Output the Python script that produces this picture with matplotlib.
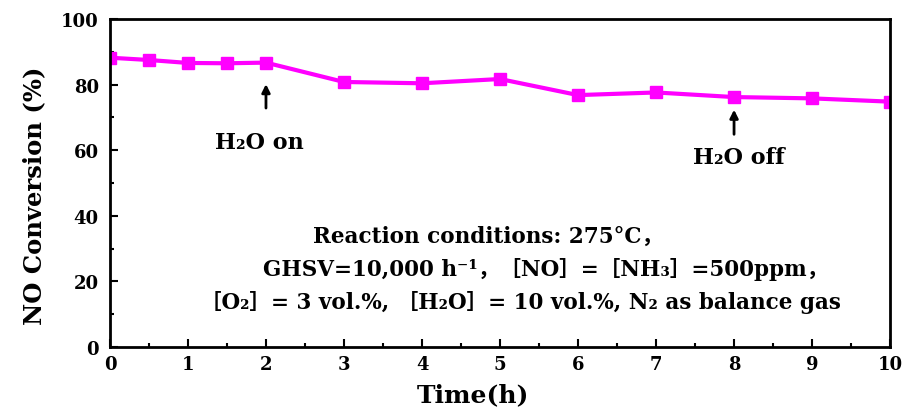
import matplotlib
matplotlib.use("Agg")
import matplotlib.pyplot as plt
from matplotlib.ticker import MultipleLocator

plt.rcParams['font.family'] = ['DejaVu Serif', 'Noto Sans CJK SC']
plt.rcParams['font.weight'] = 'bold'

time_h = [0, 0.5, 1, 1.5, 2, 3, 4, 5, 6, 7, 8, 9, 10]
no_conversion = [88.2, 87.5, 86.6, 86.5, 86.7, 80.8, 80.4, 81.7, 76.8, 77.6, 76.2, 75.8, 74.8]

fig = plt.figure(figsize=(9.05, 4.14), dpi=100)
ax = fig.add_axes([0.1215, 0.1594, 0.862, 0.7923])

ax.plot(time_h, no_conversion, color='#FF00FF', lw=3, marker='s', ms=8.5,
        mec='#FF00FF', mfc='#FF00FF')

ax.set_xlim(0, 10)
ax.set_ylim(0, 100)
ax.xaxis.set_major_locator(MultipleLocator(1))
ax.xaxis.set_minor_locator(MultipleLocator(0.5))
ax.yaxis.set_major_locator(MultipleLocator(20))
ax.yaxis.set_minor_locator(MultipleLocator(10))
ax.tick_params(which='both', direction='in', width=1.5, labelsize=13)
ax.tick_params(axis='y', pad=8)
ax.tick_params(axis='x', pad=6)
ax.tick_params(which='major', length=6)
ax.tick_params(which='minor', length=3)
for s in ax.spines.values():
    s.set_linewidth(2)
for lab in ax.get_xticklabels() + ax.get_yticklabels():
    lab.set_fontweight('bold')

ax.set_xlabel('Time(h)', fontsize=18, fontweight='bold')
ax.xaxis.set_label_coords(0.465, -0.108)
ax.set_ylabel('NO Conversion (%)', fontsize=17.5, fontweight='bold')
ax.yaxis.set_label_coords(-0.082, 0.463)

# switch markers
arrow = dict(arrowstyle='-|>', color='black', lw=2, mutation_scale=12)
ax.annotate('', xy=(2, 81.0), xytext=(2, 72.0), arrowprops=arrow)
ax.annotate('', xy=(8, 73.2), xytext=(8, 64.0), arrowprops=arrow)
ax.text(1.92, 62.5, 'H₂O on', fontsize=16, fontweight='bold', ha='center', va='center')
ax.text(8.06, 58.0, 'H₂O off', fontsize=16, fontweight='bold', ha='center', va='center')

# operating conditions
ax.text(4.85, 33.8, 'Reaction conditions: 275°C，', fontsize=15.5,
        fontweight='bold', ha='center', va='center')
ax.text(5.58, 23.8, 'GHSV=10,000 h⁻¹，［NO］=［NH₃］=500ppm，', fontsize=15.5,
        fontweight='bold', ha='center', va='center')
ax.text(5.26, 14.0, '［O₂］= 3 vol.%, ［H₂O］= 10 vol.%, N₂ as balance gas', fontsize=15.5,
        fontweight='bold', ha='center', va='center')

fig.savefig('out.png', dpi=100)
